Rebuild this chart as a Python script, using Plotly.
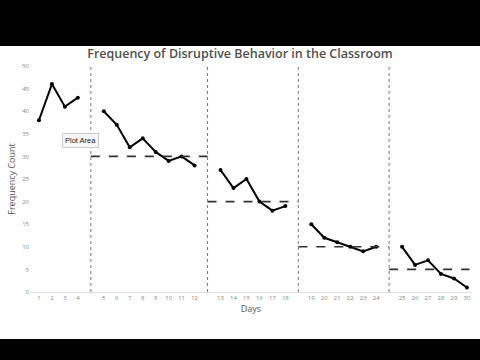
import plotly.graph_objects as go

# ---- data ----
phase_days = [
    [1, 2, 3, 4],
    [5, 6, 7, 8, 9, 10, 11, 12],
    [13, 14, 15, 16, 17, 18],
    [19, 20, 21, 22, 23, 24],
    [25, 26, 27, 28, 29, 30],
]
phase_values = [
    [38, 46, 41, 43],
    [40, 37, 32, 34, 31, 29, 30, 28],
    [27, 23, 25, 20, 18, 19],
    [15, 12, 11, 10, 9, 10],
    [10, 6, 7, 4, 3, 1],
]
criteria = [None, 30, 20, 10, 5]  # criterion level per phase
y_ticks = [0, 5, 10, 15, 20, 25, 30, 35, 40, 45, 50]

# ---- positions: one blank slot between phases ----
slot_of_phase = []
slot = 0
boundaries = []
for i, days in enumerate(phase_days):
    if i > 0:
        boundaries.append(slot)
        slot += 1
    slot_of_phase.append(list(range(slot, slot + len(days))))
    slot += len(days)

fig = go.Figure()

tick_vals, tick_text = [], []
for i, (days, vals) in enumerate(zip(phase_days, phase_values)):
    xs = slot_of_phase[i]
    tick_vals += xs
    tick_text += [str(d) for d in days]
    fig.add_trace(go.Scatter(
        x=xs, y=vals, mode="lines+markers",
        line=dict(color="black", width=2),
        marker=dict(color="black", size=4),
        showlegend=False, hoverinfo="skip", cliponaxis=False))

# criterion dashed lines
for i, c in enumerate(criteria):
    if c is None:
        continue
    x0 = boundaries[i - 1]
    x1 = boundaries[i] if i < len(boundaries) else slot_of_phase[i][-1] + 0.2
    fig.add_trace(go.Scatter(
        x=[x0, x1], y=[c, c], mode="lines",
        line=dict(color="#333333", width=1.6, dash="dash"),
        showlegend=False, hoverinfo="skip"))

# phase change lines
for b in boundaries:
    fig.add_shape(type="line", xref="x", yref="y", x0=b, x1=b, y0=0, y1=50,
                  line=dict(color="#777777", width=1, dash="dot"))

# white page band between black letterbox bars
fig.add_shape(type="rect", xref="paper", yref="paper",
              x0=-1, x1=2, y0=-47 / 226, y1=1 + 20 / 226,
              fillcolor="white", line=dict(width=0), layer="below")

fig.add_annotation(
    text="Plot Area", xref="paper", yref="paper",
    x=(80 - 30) / 442, y=(292 - 140) / 226, xanchor="center", yanchor="middle",
    showarrow=False,
    font=dict(family="Liberation Sans, Arial", size=7.5, color="#222"),
    bgcolor="#f6f6f6", bordercolor="#cccccc", borderwidth=1, borderpad=2)

fig.update_layout(
    width=480, height=360,
    margin=dict(l=30, r=8, t=66, b=68),
    paper_bgcolor="black", plot_bgcolor="white",
    title=dict(text="Frequency of Disruptive Behavior in the Classroom",
               x=0.5, xref="container", xanchor="center",
               y=1 - 54 / 360, yref="container", yanchor="middle",
               font=dict(family="Open Sans", size=12.5, color="#505050",
                         weight=600)),
    xaxis=dict(range=[-0.69, 33.39], tickvals=tick_vals, ticktext=tick_text,
               tickfont=dict(family="Open Sans", size=6, color="#888888"),
               showgrid=False, zeroline=False, showline=True,
               linecolor="#e0e0e0", linewidth=1, ticks="",
               title=dict(text="Days", standoff=2,
                          font=dict(family="Open Sans", size=9, color="#555555"))),
    yaxis=dict(range=[0, 50], tickvals=y_ticks,
               tickfont=dict(family="Open Sans", size=6, color="#888888"),
               showgrid=False, zeroline=False, showline=False, ticks="",
               title=dict(text="Frequency Count", standoff=4,
                          font=dict(family="Open Sans", size=9, color="#555555"))),
)

fig.write_html("out.html",
               config={"displayModeBar": False},
               post_script="document.body.style.margin='0';"
                           "document.body.style.background='black';")
